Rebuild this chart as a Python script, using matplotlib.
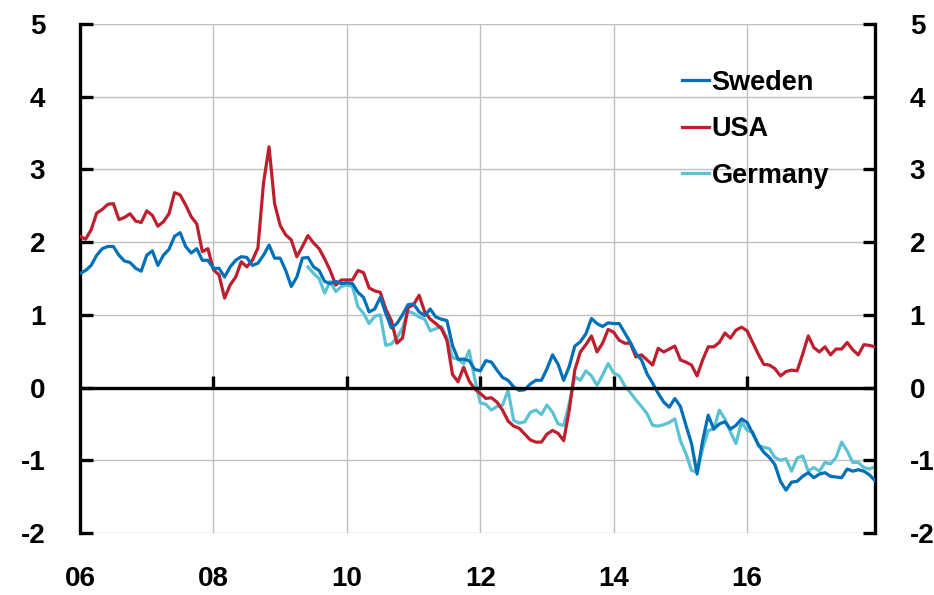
import numpy as np
import matplotlib
matplotlib.use('Agg')
import matplotlib.pyplot as plt
from matplotlib import markers

plt.rcParams['font.family'] = ['Liberation Sans', 'DejaVu Sans']
plt.rcParams['font.weight'] = 'bold'

# monthly observations, Jan 2006 - Dec 2017
sweden = [1.57, 1.61, 1.68, 1.82, 1.91, 1.94, 1.94, 1.82, 1.74, 1.72, 1.64, 1.60,
          1.82, 1.88, 1.68, 1.82, 1.90, 2.08, 2.13, 1.94, 1.85, 1.91, 1.75, 1.75,
          1.64, 1.64, 1.52, 1.66, 1.75, 1.80, 1.79, 1.68, 1.71, 1.82, 1.96, 1.78,
          1.78, 1.61, 1.39, 1.52, 1.78, 1.79, 1.66, 1.61, 1.46, 1.43, 1.46, 1.43,
          1.44, 1.43, 1.31, 1.24, 1.04, 1.08, 1.24, 1.02, 0.82, 0.88, 1.00, 1.14,
          1.15, 1.04, 0.99, 1.08, 0.97, 0.94, 0.92, 0.58, 0.39, 0.39, 0.37, 0.25,
          0.23, 0.37, 0.35, 0.24, 0.14, 0.10, 0.01, -0.04, -0.03, 0.05, 0.10, 0.10,
          0.26, 0.45, 0.32, 0.10, 0.29, 0.57, 0.63, 0.74, 0.95, 0.88, 0.84, 0.89,
          0.88, 0.88, 0.75, 0.62, 0.47, 0.38, 0.19, 0.06, -0.08, -0.20, -0.27, -0.15,
          -0.26, -0.52, -0.77, -1.19, -0.73, -0.38, -0.57, -0.50, -0.47, -0.57, -0.52, -0.43,
          -0.48, -0.63, -0.78, -0.89, -0.96, -1.06, -1.29, -1.41, -1.30, -1.29, -1.22, -1.17,
          -1.24, -1.19, -1.17, -1.22, -1.23, -1.24, -1.12, -1.15, -1.13, -1.15, -1.20, -1.28]

usa = [2.08, 2.04, 2.17, 2.40, 2.45, 2.52, 2.53, 2.31, 2.34, 2.39, 2.29, 2.27,
       2.43, 2.37, 2.22, 2.28, 2.39, 2.68, 2.65, 2.51, 2.35, 2.25, 1.87, 1.91,
       1.62, 1.55, 1.23, 1.41, 1.52, 1.73, 1.66, 1.75, 1.92, 2.81, 3.31, 2.53,
       2.23, 2.10, 2.03, 1.80, 1.94, 2.09, 1.99, 1.91, 1.77, 1.61, 1.41, 1.48,
       1.48, 1.48, 1.61, 1.58, 1.37, 1.33, 1.31, 1.08, 0.92, 0.61, 0.68, 1.10,
       1.14, 1.27, 1.04, 0.94, 0.88, 0.81, 0.65, 0.18, 0.08, 0.28, 0.09, -0.02,
       -0.08, -0.15, -0.14, -0.20, -0.31, -0.46, -0.53, -0.56, -0.64, -0.72, -0.75, -0.75,
       -0.64, -0.59, -0.63, -0.73, -0.31, 0.24, 0.49, 0.59, 0.71, 0.49, 0.61, 0.80,
       0.76, 0.65, 0.61, 0.61, 0.42, 0.45, 0.38, 0.31, 0.54, 0.49, 0.53, 0.57,
       0.38, 0.35, 0.31, 0.16, 0.38, 0.56, 0.56, 0.62, 0.75, 0.68, 0.79, 0.83,
       0.78, 0.62, 0.46, 0.32, 0.31, 0.26, 0.16, 0.22, 0.24, 0.23, 0.46, 0.71,
       0.55, 0.49, 0.56, 0.45, 0.53, 0.53, 0.62, 0.52, 0.45, 0.59, 0.58, 0.56]

# Germany series starts in June 2009
germany_start = 41
germany = [1.66, 1.57, 1.50, 1.30, 1.46, 1.32, 1.39,
           1.41, 1.39, 1.11, 1.02, 0.88, 0.98, 1.00, 0.58, 0.60, 0.68, 0.82, 1.05,
           1.02, 0.97, 0.94, 0.78, 0.81, 0.84, 0.69, 0.41, 0.39, 0.33, 0.51, 0.12,
           -0.21, -0.23, -0.31, -0.26, -0.24, -0.04, -0.45, -0.49, -0.47, -0.34, -0.31, -0.37,
           -0.24, -0.34, -0.50, -0.52, -0.22, 0.15, 0.10, 0.23, 0.16, 0.03, 0.17, 0.33,
           0.20, 0.16, 0.02, -0.07, -0.17, -0.26, -0.36, -0.52, -0.53, -0.51, -0.48, -0.43,
           -0.73, -0.91, -1.14, -1.16, -0.84, -0.59, -0.57, -0.31, -0.43, -0.61, -0.77, -0.47,
           -0.59, -0.61, -0.80, -0.82, -0.84, -0.96, -1.00, -0.98, -1.15, -0.97, -0.94, -1.15,
           -1.10, -1.15, -1.03, -1.05, -0.96, -0.75, -0.87, -1.03, -1.03, -1.10, -1.12, -1.09]

year_ticks = [2006, 2008, 2010, 2012, 2014, 2016]
year_labels = ['06', '08', '10', '12', '14', '16']
y_ticks = [-2, -1, 0, 1, 2, 3, 4, 5]

t = 2006 + np.arange(len(sweden)) / 12.0
t_ger = t[germany_start:germany_start + len(germany)]

fig = plt.figure(figsize=(9.34, 5.95), dpi=100)
ax = fig.add_axes([0.0857, 0.1042, 0.8511, 0.8555])

lw = 2.3
ax.plot(t, sweden, color='#0070B8', lw=lw, label='Sweden', zorder=4)
ax.plot(t, usa, color='#BE1E2D', lw=lw, label='USA', zorder=3)
ax.plot(t_ger, germany, color='#5BC2D3', lw=lw, label='Germany', zorder=2)

ax.set_xlim(t[0], t[-1])
ax.set_ylim(-2, 5)

ax.set_xticks(year_ticks)
ax.set_xticklabels(year_labels)
ax.set_yticks(y_ticks)
ax.set_yticklabels([str(v) for v in y_ticks])

ax.grid(True, color='#BFBFBF', lw=1.0, zorder=0)
ax.set_axisbelow(True)

for s in ['top', 'bottom']:
    ax.spines[s].set_visible(False)
for s in ['left', 'right']:
    ax.spines[s].set_linewidth(2.4)
    ax.spines[s].set_color('black')

ax.yaxis.set_ticks_position('both')
ax.tick_params(axis='y', which='both', direction='in', length=9, width=2.4,
               labelleft=True, labelright=True, pad=25, labelsize=20)
ax.tick_params(axis='x', length=0, pad=24, labelsize=20)
for tk in ax.yaxis.get_major_ticks() + ax.xaxis.get_major_ticks():
    tk.label1.set_fontweight('bold')
    tk.label2.set_fontweight('bold')

# zero line with small upward ticks at each label year
ax.axhline(0, color='black', lw=2.4, zorder=5)
ax.plot(year_ticks[1:], [0] * (len(year_ticks) - 1), ls='none',
        marker=markers.TICKUP, markersize=9, mew=2.4, color='black', zorder=5)

ax.legend(loc='upper left', bbox_to_anchor=(0.757, 0.910), frameon=False,
          prop={'size': 19.5, 'weight': 'bold'}, handlelength=1.0,
          handletextpad=0.1, labelspacing=0.76, borderpad=0, borderaxespad=0)

fig.savefig('out.png', dpi=100)
